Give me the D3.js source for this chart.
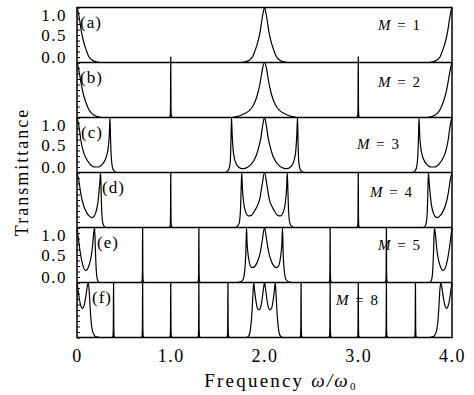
<!DOCTYPE html>
<html>
<head>
<meta charset="utf-8">
<script src="https://cdn.jsdelivr.net/npm/d3@7"></script>
<style>
  body { margin: 0; background: #fff; }
  text { font-family: "Liberation Serif", "DejaVu Serif", serif; fill: #000; }
</style>
</head>
<body>
<div id="vis-container"></div>
<script>
// frequency (omega/omega0), transmittance pairs
const curveA = [[0,1],[0.015,0.9],[0.03,0.75],[0.045,0.58],[0.06,0.45],[0.08,0.32],[0.1,0.22],[0.125,0.11],[0.15,0.06],[0.18,0.025],[0.21,0.01],[0.25,0],
  [1.75,0],[1.79,0.01],[1.82,0.025],[1.85,0.06],[1.875,0.11],[1.9,0.22],[1.92,0.32],[1.94,0.45],[1.955,0.58],[1.97,0.75],[1.985,0.9],[2,1],
  [2.015,0.9],[2.03,0.75],[2.045,0.58],[2.06,0.45],[2.08,0.32],[2.1,0.22],[2.125,0.11],[2.15,0.06],[2.18,0.025],[2.21,0.01],[2.25,0],
  [3.75,0],[3.79,0.01],[3.82,0.025],[3.85,0.06],[3.875,0.11],[3.9,0.22],[3.92,0.32],[3.94,0.45],[3.955,0.58],[3.97,0.75],[3.985,0.9],[4,1]];

const curveB = [[0,1],[0.015,0.9],[0.03,0.76],[0.045,0.61],[0.06,0.48],[0.08,0.35],[0.1,0.25],[0.125,0.15],[0.15,0.09],[0.18,0.045],[0.21,0.02],[0.25,0.005],[0.3,0],
  [1.65,0],[1.7,0.015],[1.75,0.04],[1.8,0.08],[1.84,0.13],[1.87,0.19],[1.9,0.29],[1.93,0.45],[1.95,0.6],[1.965,0.75],[1.98,0.9],[2,1],
  [2.02,0.9],[2.035,0.75],[2.05,0.6],[2.07,0.45],[2.1,0.29],[2.13,0.19],[2.16,0.13],[2.2,0.08],[2.25,0.04],[2.3,0.015],[2.35,0],
  [3.7,0],[3.75,0.005],[3.79,0.02],[3.82,0.045],[3.85,0.09],[3.875,0.15],[3.9,0.25],[3.92,0.35],[3.94,0.48],[3.955,0.61],[3.97,0.76],[3.985,0.9],[4,1]];

const curveC = [[0,1],[0.02,0.85],[0.04,0.6],[0.06,0.43],[0.08,0.32],[0.1,0.25],[0.13,0.17],[0.16,0.12],[0.19,0.1],[0.22,0.1],[0.25,0.12],[0.28,0.17],[0.3,0.23],[0.32,0.33],[0.335,0.48],[0.345,0.7],[0.352,1],[0.358,0.6],[0.365,0.3],[0.375,0.12],[0.39,0.04],[0.41,0.01],[0.43,0],
  [1.57,0],[1.6,0.02],[1.62,0.06],[1.635,0.2],[1.642,0.55],[1.648,1],[1.655,0.7],[1.665,0.42],[1.68,0.25],[1.7,0.15],[1.73,0.09],[1.76,0.07],[1.8,0.08],[1.84,0.12],[1.88,0.2],[1.91,0.3],[1.94,0.47],[1.96,0.62],[1.98,0.85],[2,1],
  [2.02,0.85],[2.04,0.62],[2.06,0.47],[2.09,0.3],[2.12,0.2],[2.16,0.12],[2.2,0.08],[2.24,0.07],[2.27,0.09],[2.3,0.15],[2.32,0.25],[2.335,0.42],[2.345,0.7],[2.352,1],[2.358,0.55],[2.365,0.2],[2.38,0.06],[2.4,0.02],[2.43,0],
  [3.57,0],[3.59,0.01],[3.61,0.04],[3.625,0.12],[3.635,0.3],[3.642,0.6],[3.648,1],[3.655,0.7],[3.665,0.48],[3.68,0.33],[3.7,0.23],[3.72,0.17],[3.75,0.12],[3.78,0.1],[3.81,0.1],[3.84,0.12],[3.87,0.17],[3.9,0.25],[3.92,0.32],[3.94,0.43],[3.96,0.6],[3.98,0.85],[4,1]];

const curveD = [[0,1],[0.02,0.85],[0.04,0.62],[0.07,0.4],[0.1,0.28],[0.13,0.21],[0.155,0.18],[0.18,0.2],[0.2,0.27],[0.22,0.42],[0.235,0.65],[0.245,0.85],[0.252,1],[0.258,0.6],[0.265,0.25],[0.275,0.08],[0.29,0.02],[0.31,0],
  [1.68,0],[1.71,0.02],[1.73,0.08],[1.743,0.3],[1.751,0.7],[1.757,1],[1.765,0.7],[1.78,0.42],[1.8,0.28],[1.83,0.21],[1.86,0.22],[1.89,0.29],[1.92,0.38],[1.95,0.52],[1.975,0.78],[2,1],
  [2.025,0.78],[2.05,0.52],[2.08,0.38],[2.11,0.29],[2.14,0.22],[2.17,0.21],[2.2,0.28],[2.22,0.42],[2.235,0.7],[2.243,1],[2.249,0.7],[2.257,0.3],[2.27,0.08],[2.29,0.02],[2.32,0],
  [3.69,0],[3.71,0.02],[3.725,0.08],[3.735,0.25],[3.742,0.6],[3.748,1],[3.755,0.85],[3.765,0.65],[3.78,0.42],[3.8,0.27],[3.82,0.2],[3.845,0.18],[3.87,0.21],[3.9,0.28],[3.93,0.4],[3.96,0.62],[3.98,0.85],[4,1]];

const curveE = [[0,1],[0.015,0.8],[0.03,0.6],[0.05,0.4],[0.07,0.27],[0.09,0.22],[0.11,0.24],[0.13,0.32],[0.15,0.46],[0.165,0.65],[0.177,0.88],[0.188,1],[0.195,0.65],[0.203,0.3],[0.212,0.1],[0.225,0.02],[0.245,0],
  [1.7,0],[1.74,0.01],[1.77,0.05],[1.788,0.2],[1.8,0.5],[1.808,1],[1.815,0.7],[1.83,0.45],[1.85,0.3],[1.87,0.27],[1.9,0.3],[1.93,0.4],[1.955,0.55],[1.975,0.75],[2,1],
  [2.025,0.75],[2.045,0.55],[2.07,0.4],[2.1,0.3],[2.13,0.27],[2.15,0.3],[2.17,0.45],[2.185,0.7],[2.192,1],[2.2,0.5],[2.212,0.2],[2.23,0.05],[2.26,0.01],[2.3,0],
  [3.755,0],[3.775,0.02],[3.788,0.1],[3.797,0.3],[3.805,0.65],[3.812,1],[3.823,0.88],[3.835,0.65],[3.85,0.46],[3.87,0.32],[3.89,0.24],[3.91,0.22],[3.93,0.27],[3.95,0.4],[3.97,0.6],[3.985,0.8],[4,1]];

const curveF = [[0,1],[0.015,0.82],[0.03,0.65],[0.045,0.56],[0.06,0.53],[0.075,0.58],[0.09,0.7],[0.105,0.88],[0.12,1],[0.13,0.85],[0.14,0.55],[0.15,0.3],[0.165,0.12],[0.185,0.04],[0.21,0.01],[0.25,0],
  [1.8,0],[1.82,0.01],[1.84,0.06],[1.855,0.22],[1.868,0.5],[1.877,0.8],[1.885,1],[1.895,0.85],[1.91,0.65],[1.925,0.53],[1.942,0.5],[1.96,0.56],[1.975,0.7],[1.99,0.9],[2,1],
  [2.01,0.9],[2.025,0.7],[2.04,0.56],[2.058,0.5],[2.075,0.53],[2.09,0.65],[2.105,0.85],[2.115,1],[2.123,0.8],[2.132,0.5],[2.145,0.22],[2.16,0.06],[2.18,0.01],[2.2,0],
  [3.75,0],[3.79,0.01],[3.815,0.04],[3.835,0.12],[3.85,0.3],[3.86,0.55],[3.87,0.85],[3.88,1],[3.895,0.88],[3.91,0.7],[3.925,0.58],[3.94,0.53],[3.955,0.56],[3.97,0.65],[3.985,0.82],[4,1]];

// narrow transmission spikes: centre frequencies per panel
const spikesA = [];
const spikesB = [1.0, 3.0];
const spikesC = [];
const spikesD = [1.0, 3.0];
const spikesE = [0.7, 1.3, 2.7, 3.3];
const spikesF = [0.39, 0.7, 1.0, 1.3, 1.61, 2.39, 2.7, 3.0, 3.3, 3.61];
const spikeTop = [1, 1.1, 1, 1, 1, 1];
// shape of one spike (offset in frequency, fraction of its height)
const spikeOffsets = [-0.02, -0.01, -0.005, -0.002, 0, 0.002, 0.005, 0.01, 0.02];
const spikeLevels  = [0, 0.01, 0.04, 0.2, 1, 0.2, 0.04, 0.01, 0];

const panelNames = ["(a)", "(b)", "(c)", "(d)", "(e)", "(f)"];
const periods = [1, 2, 3, 4, 5, 8];
const xTicks = [0, 1, 2, 3, 4];
const xTickLabels = ["0", "1.0", "2.0", "3.0", "4.0"];
const yTicks = [1, 0.5, 0];
const yTickLabels = ["1.0", "0.5", "0.0"];

const curves = [curveA, curveB, curveC, curveD, curveE, curveF];
const spikes = [spikesA, spikesB, spikesC, spikesD, spikesE, spikesF];

// layout
const width = 474, height = 395;
const plotLeft = 77, plotRight = 452, plotTop = 7.5, panelH = 55;
const nameX = [80, 80, 81, 102, 97, 92];
const mLabel = [[378, 30], [378, 87], [357, 149], [370, 197], [378, 250], [336, 305]];

const svg = d3.select("#vis-container")
  .append("svg")
  .attr("width", width)
  .attr("height", height);

const x = d3.scaleLinear().domain([0, 4]).range([plotLeft, plotRight]);

curves.forEach((data, i) => {
  const y0 = plotTop + i * panelH;
  const y = d3.scaleLinear().domain([0, 1]).range([y0 + panelH, y0]);
  const line = d3.line()
    .x(d => x(d[0]))
    .y(d => y(d[1]))
    .curve(d3.curveMonotoneX);

  const g = svg.append("g");

  g.append("path")
    .attr("d", line(data))
    .attr("fill", "none")
    .attr("stroke", "#000")
    .attr("stroke-width", 1.2);

  spikes[i].forEach(c => {
    const pts = spikeOffsets.map((o, k) => [c + o, spikeLevels[k] * spikeTop[i]]);
    g.append("path")
      .attr("d", line(pts))
      .attr("fill", "none")
      .attr("stroke", "#000")
      .attr("stroke-width", 1.3);
  });

  // little inward ticks on the left edge
  g.append("g")
    .attr("transform", `translate(${plotLeft},0)`)
    .call(d3.axisRight(y).tickValues(d3.range(0, 11).map(k => k / 10)).tickSize(3).tickFormat(""))
    .call(a => a.select(".domain").remove())
    .call(a => a.selectAll("line").attr("stroke-width", 1));

  // tick labels only on (a), (c), (e)
  if (i % 2 === 0) {
    const nudge = [8, 0, -5.5];
    yTicks.forEach((v, k) => {
      g.append("text")
        .attr("x", 67)
        .attr("y", y(v) + nudge[k])
        .attr("dy", "0.35em")
        .attr("text-anchor", "end")
        .style("font-size", "17px")
        .style("letter-spacing", "1.5px")
        .text(yTickLabels[k]);
    });
  }

  g.append("text")
    .attr("x", nameX[i])
    .attr("y", y0 + 20.5)
    .style("font-size", "17px")
    .style("letter-spacing", "1px")
    .text(panelNames[i]);

  const t = g.append("text")
    .attr("x", mLabel[i][0])
    .attr("y", mLabel[i][1])
    .style("font-size", "15px")
    .style("letter-spacing", "1.5px");
  t.append("tspan").style("font-style", "italic").text("M");
  t.append("tspan").text(" = " + periods[i]);

  // panel divider
  if (i > 0) {
    svg.append("line")
      .attr("x1", plotLeft).attr("x2", plotRight)
      .attr("y1", y0).attr("y2", y0)
      .attr("stroke", "#000")
      .attr("stroke-width", 1.5);
  }
});

// outer frame
svg.append("rect")
  .attr("x", plotLeft)
  .attr("y", plotTop)
  .attr("width", plotRight - plotLeft)
  .attr("height", panelH * 6)
  .attr("fill", "none")
  .attr("stroke", "#000")
  .attr("stroke-width", 1.5);

// x axis labels
svg.append("g")
  .attr("transform", `translate(0,${plotTop + panelH * 6})`)
  .call(d3.axisBottom(x).tickValues(xTicks).tickSize(0).tickPadding(11.5)
    .tickFormat((d, k) => xTickLabels[k]))
  .call(a => a.select(".domain").remove())
  .call(a => a.selectAll("text")
    .style("font-family", "Liberation Serif, serif")
    .style("font-size", "18px")
    .style("letter-spacing", "1.5px"));

const xt = svg.append("text")
  .attr("x", 281)
  .attr("y", 387)
  .attr("text-anchor", "middle")
  .style("font-size", "19px")
  .style("letter-spacing", "2.2px");
xt.append("tspan").text("Frequency  ");
xt.append("tspan").style("font-style", "italic").text("ω/ω");
xt.append("tspan").attr("dy", 3).style("font-size", "11px").text("0");

svg.append("text")
  .attr("transform", "translate(28,172) rotate(-90)")
  .attr("text-anchor", "middle")
  .style("font-size", "18px")
  .style("letter-spacing", "2px")
  .text("Transmittance");
</script>
</body>
</html>
